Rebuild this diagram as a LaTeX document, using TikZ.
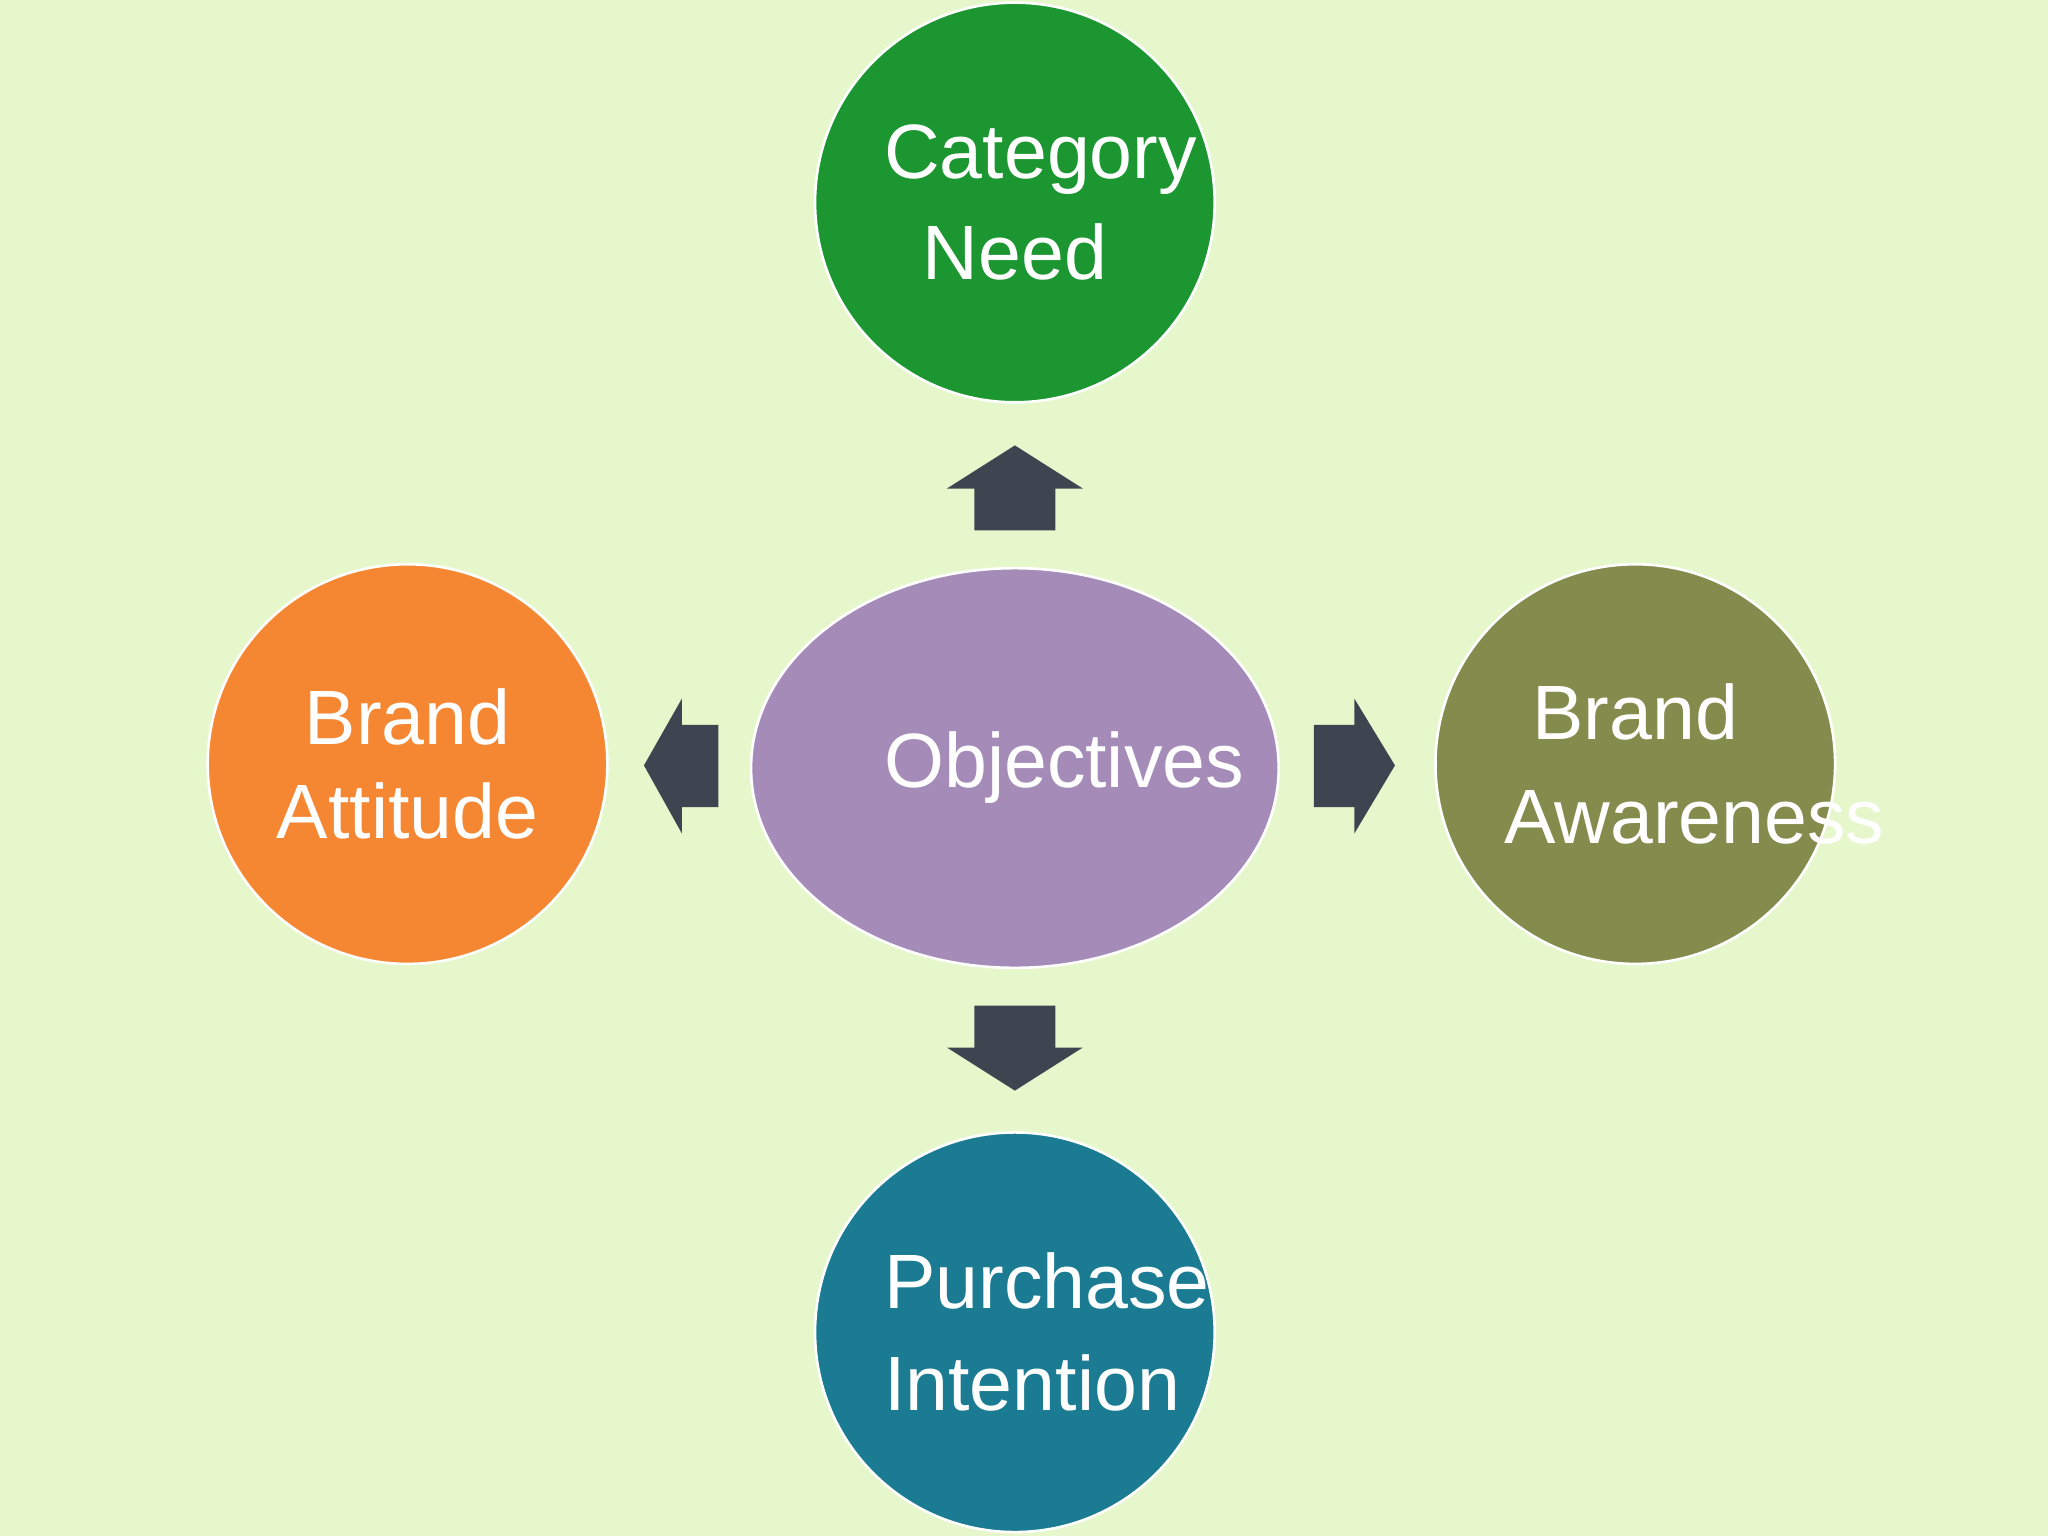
\documentclass[tikz,border=0pt]{standalone}
\usepackage{fontspec}
\setmainfont{Liberation Sans}
\usetikzlibrary{shapes.geometric}
\begin{document}
\begin{tikzpicture}[x=1pt,y=-1pt,
  bub/.style={circle,draw=white,line width=2pt,minimum size=306pt,inner sep=0pt,text=white,align=center,text width=200pt,font=\fontsize{59}{72}\selectfont},
  arr/.style={fill=arrowc}]
\definecolor{bg}{HTML}{E6F7CC}
\definecolor{arrowc}{HTML}{3F4550}
\definecolor{cg}{HTML}{1B9630}
\definecolor{co}{HTML}{F58733}
\definecolor{cv}{HTML}{848C4D}
\definecolor{ct}{HTML}{1A7B92}
\definecolor{cp}{HTML}{A58CB8}
\fill[bg] (0,0) rectangle (1568,1176);
\useasboundingbox (0,0) rectangle (1568,1176);
\node[bub,fill=cg] (cn) at (777,155) {\raisebox{6pt}{Category}\\Need};
\node[bub,fill=co] (ba) at (312,585) {Brand\\Attitude};
\node[bub,fill=cv] (bw) at (1252,585) {\raisebox{8pt}{Brand}\\Awareness};
\node[bub,fill=ct] (pi) at (777,1020) {\raisebox{6pt}{Purchase}\\Intention};
\node[bub,ellipse,fill=cp,minimum width=404pt,minimum height=306pt] (ob) at (777,588) {Objectives};
\fill[arr] (746,406) -- (746,374) -- (725,374) -- (777,341) -- (829,374) -- (808,374) -- (808,406) -- cycle;
\fill[arr] (746,770) -- (746,802) -- (725,802) -- (777,835) -- (829,802) -- (808,802) -- (808,770) -- cycle;
\fill[arr] (550,555) -- (522,555) -- (522,535) -- (493,586) -- (522,638) -- (522,618) -- (550,618) -- cycle;
\fill[arr] (1006,555) -- (1037,555) -- (1037,535) -- (1068,586) -- (1037,638) -- (1037,618) -- (1006,618) -- cycle;
\end{tikzpicture}
\end{document}
